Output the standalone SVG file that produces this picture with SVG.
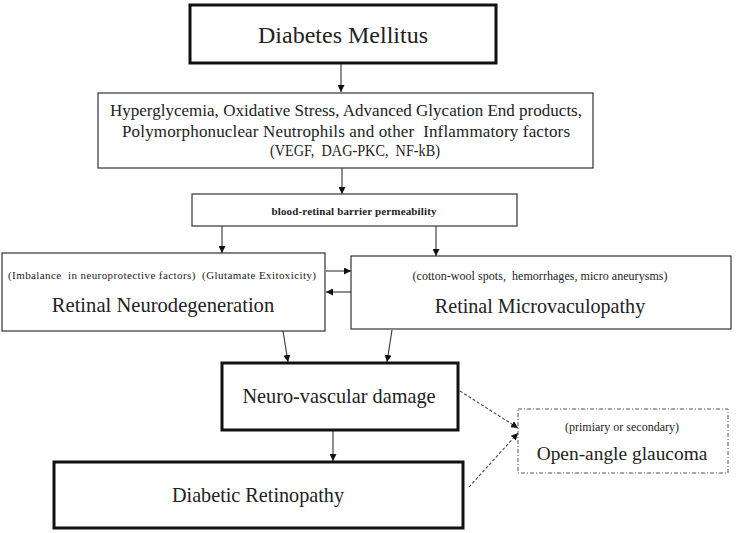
<svg xmlns="http://www.w3.org/2000/svg" width="737" height="533" viewBox="0 0 737 533">
<style>
text{font-family:"Liberation Serif","Times New Roman",serif;fill:#222;text-anchor:middle}
.thick{fill:#fff;stroke:#111;stroke-width:3}
.thin{fill:#fff;stroke:#333;stroke-width:1.2}
.dd{fill:#fff;stroke:#555;stroke-width:1;stroke-dasharray:4 2 1 2}
.c{fill:none;stroke:#333;stroke-width:1.1}
.d{fill:none;stroke:#444;stroke-width:1.1;stroke-dasharray:3 2}
.md{font-size:17px}
</style>
<defs>
<marker id="ah" viewBox="0 0 10 10" refX="10" refY="5" markerWidth="7" markerHeight="7" markerUnits="userSpaceOnUse" orient="auto">
<path d="M0,0 L10,5 L0,10 z" fill="#111"/>
</marker>
</defs>
<g id="connectors">
<line class="c" x1="341" y1="64" x2="341" y2="92" marker-end="url(#ah)"/>
<line class="c" x1="342" y1="168" x2="342" y2="194" marker-end="url(#ah)"/>
<line class="c" x1="222" y1="226" x2="222" y2="253" marker-end="url(#ah)"/>
<line class="c" x1="436" y1="226" x2="436" y2="256" marker-end="url(#ah)"/>
<line class="c" x1="326" y1="271" x2="351" y2="271" marker-end="url(#ah)"/>
<line class="c" x1="351" y1="292" x2="326" y2="292" marker-end="url(#ah)"/>
<line class="c" x1="283" y1="331" x2="288" y2="362" marker-end="url(#ah)"/>
<line class="c" x1="392" y1="330" x2="387" y2="362" marker-end="url(#ah)"/>
<line class="c" x1="333" y1="431" x2="333" y2="461" marker-end="url(#ah)"/>
<line class="d" x1="460" y1="391" x2="518" y2="428" marker-end="url(#ah)"/>
<line class="d" x1="469" y1="487" x2="518" y2="433" marker-end="url(#ah)"/>
</g>
<g id="diabetes-mellitus">
<rect class="thick" x="190" y="5" width="306" height="58"/>
<text x="343" y="43" style="font-size:24px">Diabetes Mellitus</text>
</g>
<g id="factors">
<rect class="thin" x="98" y="93" width="495" height="75"/>
<text class="md" x="346" y="116" textLength="472">Hyperglycemia, Oxidative Stress, Advanced Glycation End products,</text>
<text class="md" x="346" y="137" textLength="448" xml:space="preserve">Polymorphonuclear Neutrophils and other  Inflammatory factors</text>
<text x="355" y="156" textLength="170" lengthAdjust="spacingAndGlyphs" style="font-size:16px" xml:space="preserve">(VEGF,  DAG-PKC,  NF-kB)</text>
</g>
<g id="barrier">
<rect class="thin" x="192" y="194" width="325" height="32"/>
<text x="354" y="215" textLength="165" style="font-size:11px;font-weight:bold">blood-retinal barrier permeability</text>
</g>
<g id="neurodegeneration">
<rect class="thin" x="2" y="253" width="323" height="78"/>
<text x="162" y="279" textLength="308" style="font-size:11px" xml:space="preserve">(Imbalance  in neuroprotective factors)  (Glutamate Exitoxicity)</text>
<text x="163" y="312" style="font-size:20.6px">Retinal Neurodegeneration</text>
</g>
<g id="microvaculopathy">
<rect class="thin" x="351" y="256" width="380" height="73"/>
<text x="540" y="280" textLength="255" style="font-size:12px" xml:space="preserve">(cotton-wool spots,  hemorrhages, micro aneurysms)</text>
<text x="540" y="313" style="font-size:20.1px">Retinal Microvaculopathy</text>
</g>
<g id="neurovascular-damage">
<rect class="thick" x="222" y="363" width="236" height="67"/>
<text x="339" y="403" style="font-size:20.3px">Neuro-vascular damage</text>
</g>
<g id="glaucoma">
<rect class="dd" x="518" y="409" width="210" height="64"/>
<text x="622" y="431" textLength="114" style="font-size:12px">(primiary or secondary)</text>
<text x="622" y="460" style="font-size:19.4px">Open-angle glaucoma</text>
</g>
<g id="diabetic-retinopathy">
<rect class="thick" x="54" y="462" width="409" height="66"/>
<text x="258" y="502" style="font-size:20.2px">Diabetic Retinopathy</text>
</g>
</svg>
